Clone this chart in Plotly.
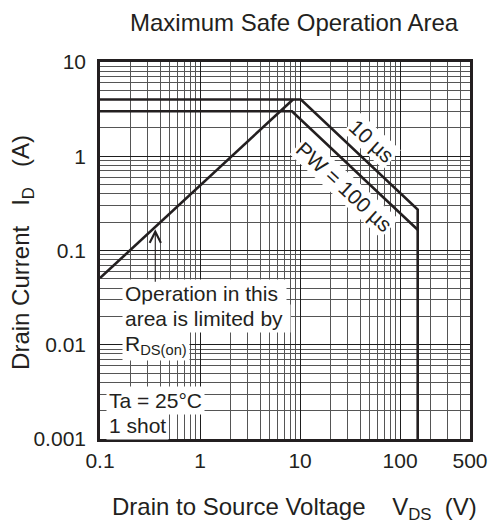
import math
import plotly.graph_objects as go

# ---------------- data ----------------
x_tickvals = [0.1, 1, 10, 100, 500]
x_ticktext = ["0.1", "1", "10", "100", "500"]
y_tickvals = [0.001, 0.01, 0.1, 1, 10]
y_ticktext = ["0.001", "0.01", "0.1", "1", "10"]

pw10_v = [0.1, 10.2, 150, 150]
pw10_i = [4.0, 4.0, 0.272, 0.001]

pw100_v = [0.1, 8.3, 150]
pw100_i = [3.0, 3.0, 0.166]

rds_v = [0.1, 8.5]
rds_i = [0.051, 4.0]

arrow_v = 0.357
arrow_i_tail = 0.045
arrow_i_head = 0.168

# ---------------- style ----------------
INK = "#231f20"
FONT = "Liberation Sans, Arial, Helvetica, sans-serif"
W, H = 500, 529
L, R, T, B = 100, 21, 62, 90
PW_ = W - L - R
PH_ = H - T - B


def px(xp):
    return (xp - L) / PW_


def py(yp):
    return (H - B - yp) / PH_


fig = go.Figure()
for v, i in [(pw10_v, pw10_i), (pw100_v, pw100_i), (rds_v, rds_i)]:
    fig.add_trace(go.Scatter(x=v, y=i, mode="lines",
                             line=dict(color=INK, width=2.6),
                             showlegend=False, hoverinfo="skip"))

axis_common = dict(
    type="log",
    showline=True, linecolor=INK, linewidth=2.6, mirror=True,
    showgrid=True, gridcolor="#1e1e1e", gridwidth=1.1,
    ticks="", zeroline=False,
    tickfont=dict(family=FONT, size=21, color=INK),
    minor=dict(dtick="D1", showgrid=True, gridcolor="#555555", gridwidth=1, ticks=""),
)

fig.update_xaxes(range=[-1, math.log10(500)], tickmode="array",
                 tickvals=x_tickvals, ticktext=x_ticktext,
                 ticklabelstandoff=1, **axis_common)
fig.update_yaxes(range=[-3, 1], tickmode="array",
                 tickvals=y_tickvals, ticktext=y_ticktext,
                 ticklabelstandoff=7, **axis_common)

ann = []
# titles
ann.append(dict(text="Maximum Safe Operation Area", x=px(299), y=py(22),
                font=dict(size=24)))
ann.append(dict(text="Drain to Source Voltage\u00a0\u00a0\u00a0\u00a0V<sub>DS</sub>\u00a0\u00a0(V)",
                x=px(299), y=py(508), font=dict(size=24)))
ann.append(dict(text="Drain Current\u00a0\u00a0\u00a0I<sub>D</sub>\u00a0\u00a0\u00a0(A)",
                x=px(20), y=py(252), textangle=-90, font=dict(size=24)))

# boxed notes (white background hides the grid)
box = dict(bgcolor="white", borderpad=2, xanchor="left", font=dict(size=21))
ann.append(dict(text="Operation in this\u00a0", x=px(123), y=py(293), **box))
ann.append(dict(text="area is limited by\u00a0", x=px(123), y=py(318), **box))
ann.append(dict(text="R<sub>DS(on)</sub>", x=px(123), y=py(345), **box))
ann.append(dict(text="Ta = 25°C", x=px(106), y=py(400), **box))
ann.append(dict(text="1 shot", x=px(106), y=py(425), **box))

# rotated pulse-width labels
ann.append(dict(text="10 µs", x=px(379), y=py(141), textangle=42.6,
                bgcolor="white", borderpad=1, font=dict(size=21)))
ann.append(dict(text="PW = 100 µs", x=px(350), y=py(186), textangle=42.6,
                bgcolor="white", borderpad=1, font=dict(size=21)))

for a in ann:
    a.setdefault("xref", "paper")
    a.setdefault("yref", "paper")
    a.setdefault("showarrow", False)
    a.setdefault("xanchor", "center")
    a.setdefault("yanchor", "middle")
    f = a.setdefault("font", {})
    f.setdefault("family", FONT)
    f.setdefault("color", INK)

# arrow pointing at R_DS(on) limit line
ann.append(dict(text="", xref="x", yref="y", axref="x", ayref="y",
                x=math.log10(arrow_v), y=math.log10(arrow_i_head),
                ax=math.log10(arrow_v), ay=math.log10(arrow_i_tail),
                showarrow=True, arrowhead=5, arrowsize=2.0, arrowwidth=1.1,
                arrowcolor=INK))

fig.update_layout(
    width=W, height=H,
    margin=dict(l=L, r=R, t=T, b=B),
    paper_bgcolor="white", plot_bgcolor="white",
    annotations=ann,
    font=dict(family=FONT, color=INK),
)

fig.write_html("out.html")
